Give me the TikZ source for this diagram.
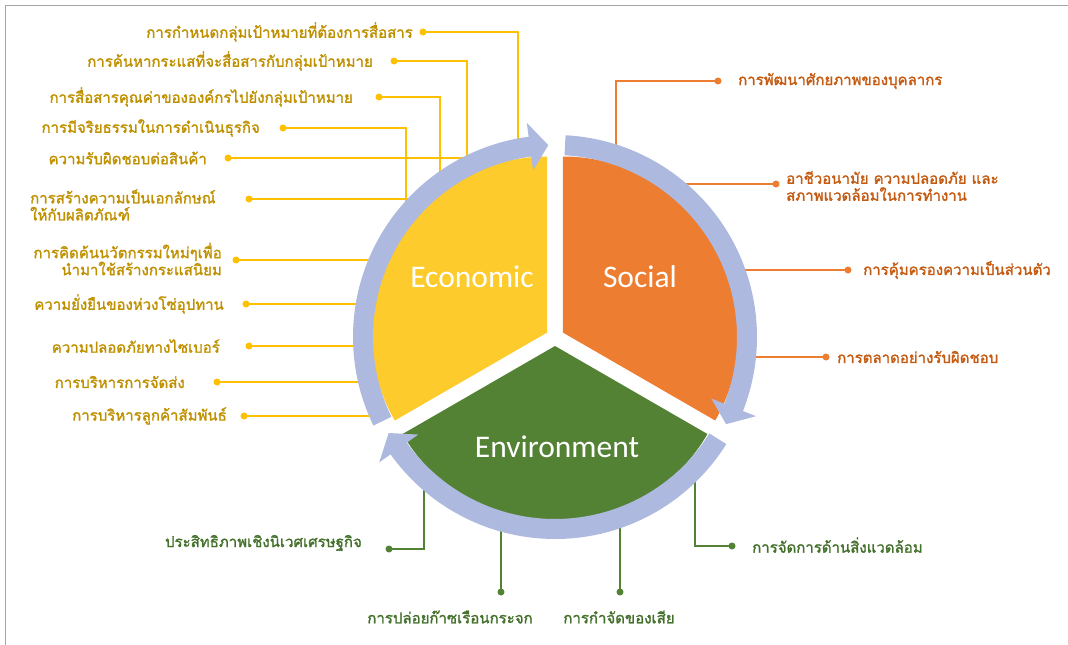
\documentclass[tikz,border=0pt]{standalone}
\usepackage{fontspec}
\newfontfamily\thaifont[Script=Thai, FakeBold=1.6]{Loma}
\newfontfamily\carlito{Carlito}
\definecolor{ecofill}{HTML}{FECB2C}
\definecolor{socfill}{HTML}{ED7D31}
\definecolor{envfill}{HTML}{548235}
\definecolor{ringc}{HTML}{ADB9DE}
\definecolor{ecoline}{HTML}{FFC000}
\definecolor{ecotext}{HTML}{BF9000}
\definecolor{socline}{HTML}{ED7D31}
\definecolor{soctext}{HTML}{C55A11}
\definecolor{envline}{HTML}{548235}
\definecolor{envtext}{HTML}{43702A}
\newcommand\ringarrow[2]{%
  \fill[ringc] (#1:202) arc[start angle=#1, end angle={#2+5.5}, radius=202]
    -- ({#2+5.5}:216) -- (#2:192) -- ({#2+5.5}:168) -- ({#2+5.5}:182)
    arc[start angle={#2+5.5}, end angle=#1, radius=182] -- cycle;}
\begin{document}
\begin{tikzpicture}[x=1pt,y=-1pt,
  lab/.style={font=\thaifont\fontsize{15}{17}\selectfont, inner sep=0pt},
  ecolab/.style={lab, text=ecotext, anchor=east, align=right},
  soclab/.style={lab, text=soctext, anchor=west, align=left},
  envlab/.style={lab, text=envtext},
  ldot/.style={circle, inner sep=0pt, minimum size=7pt},
  econn/.style={draw=ecoline, line width=1.3pt},
  sconn/.style={draw=socline, line width=1.3pt},
  gconn/.style={draw=envline, line width=1.3pt},
  seg/.style={font=\carlito\fontsize{31.5}{34}\selectfont, text=white, inner sep=0pt}]
\useasboundingbox (0,0) rectangle (1068,645);
\draw[gray!70, line width=0.8pt] (5,645) -- (5,5) -- (1068,5);

% ---- Economic labels
\node[ecolab] (e1) at (413,32) {การกำหนดกลุ่มเป้าหมายที่ต้องการสื่อสาร};
\node[ecolab] (e2) at (373,61) {การค้นหากระแสที่จะสื่อสารกับกลุ่มเป้าหมาย};
\node[ecolab] (e3) at (353,97) {การสื่อสารคุณค่าขององค์กรไปยังกลุ่มเป้าหมาย};
\node[ecolab] (e4) at (260,128) {การมีจริยธรรมในการดำเนินธุรกิจ};
\node[ecolab] (e5) at (207,158) {ความรับผิดชอบต่อสินค้า};
\node[lab, text=ecotext, anchor=west, align=left] (e6) at (30,205) {การสร้างความเป็นเอกลักษณ์\\ให้กับผลิตภัณฑ์};
\node[ecolab] (e7) at (222,259) {การคิดค้นนวัตกรรมใหม่ๆเพื่อ\\นำมาใช้สร้างกระแสนิยม};
\node[ecolab] (e8) at (224,304) {ความยั่งยืนของห่วงโซ่อุปทาน};
\node[ecolab] (e9) at (220,346) {ความปลอดภัยทางไซเบอร์};
\node[ecolab] (e10) at (185,382) {การบริหารการจัดส่ง};
\node[ecolab] (e11) at (227,416) {การบริหารลูกค้าสัมพันธ์};

\coordinate (e1e) at (518,150);
\coordinate (e2e) at (467,165);
\coordinate (e3e) at (440,180);
\coordinate (e4e) at (406,210);
\coordinate (e5e) at (470,158);
\coordinate (e6e) at (415,199);
\coordinate (e7e) at (378,260);
\coordinate (e8e) at (366,304);
\coordinate (e9e) at (363,346);
\coordinate (e10e) at (368,382);
\coordinate (e11e) at (385,416);

\node[ldot] (e1d) at (423,32) {};
\node[ldot] (e2d) at (394,61) {};
\node[ldot] (e3d) at (379,97) {};
\node[ldot] (e4d) at (283,128) {};
\node[ldot] (e5d) at (228,158) {};
\node[ldot] (e6d) at (249,199) {};
\node[ldot] (e7d) at (236,260) {};
\node[ldot] (e8d) at (246,304) {};
\node[ldot] (e9d) at (249,346) {};
\node[ldot] (e10d) at (217,382) {};
\node[ldot] (e11d) at (244,416) {};

\foreach \n in {e1,e2,e3,e4} \draw[econn] (\n d.center) -| (\n e);
\foreach \n in {e5,e6,e7,e8,e9,e10,e11} \draw[econn] (\n d.center) -- (\n e);
\foreach \n in {e1,e2,e3,e4,e5,e6,e7,e8,e9,e10,e11} \fill[ecoline] (\n d) circle[radius=3.5];

% ---- Social labels
\node[soclab] (s1) at (738,81) {การพัฒนาศักยภาพของบุคลากร};
\node[soclab] (s2) at (786,186) {อาชีวอนามัย ความปลอดภัย และ\\สภาพแวดล้อมในการทำงาน};
\node[soclab] (s3) at (863,270) {การคุ้มครองความเป็นส่วนตัว};
\node[soclab] (s4) at (837,357) {การตลาดอย่างรับผิดชอบ};
\node[ldot] (s1d) at (718,81) {};
\node[ldot] (s2d) at (776,184) {};
\node[ldot] (s3d) at (848,270) {};
\node[ldot] (s4d) at (826,357) {};
\coordinate (s1e) at (616,155);
\coordinate (s2e) at (680,184);
\coordinate (s3e) at (735,270);
\coordinate (s4e) at (745,357);
\draw[sconn] (s1d.center) -| (s1e);
\foreach \n in {s2,s3,s4} \draw[sconn] (\n d.center) -- (\n e);
\foreach \n in {s1,s2,s3,s4} \fill[socline] (\n d) circle[radius=3.5];

% ---- Environment labels
\node[envlab, anchor=east] (g1) at (362,543) {ประสิทธิภาพเชิงนิเวศเศรษฐกิจ};
\node[envlab] (g2) at (450,617) {การปล่อยก๊าซเรือนกระจก};
\node[envlab] (g3) at (619,617) {การกำจัดของเสีย};
\node[envlab, anchor=west] (g4) at (752,545) {การจัดการด้านสิ่งแวดล้อม};
\node[ldot] (g1d) at (389,549) {};
\node[ldot] (g2d) at (501,592) {};
\node[ldot] (g3d) at (620,592) {};
\node[ldot] (g4d) at (732,546) {};
\coordinate (g1e) at (424,480);
\coordinate (g2e) at (501,520);
\coordinate (g3e) at (620,518);
\coordinate (g4e) at (695,472);
\draw[gconn] (g1d.center) -| (g1e);
\draw[gconn] (g2d.center) -- (g2e);
\draw[gconn] (g3d.center) -- (g3e);
\draw[gconn] (g4d.center) -| (g4e);
\foreach \n in {g1,g2,g3,g4} \fill[envline] (\n d) circle[radius=3.5];

% ---- cycle
\begin{scope}[shift={(555,337)}, yscale=-1]
  \fill[ecofill] (150:9) -- ++(90:176) arc[start angle=90, end angle=210, radius=176] -- cycle;
  \fill[socfill] (30:9) -- ++(90:176) arc[start angle=90, end angle=-30, radius=176] -- cycle;
  \fill[envfill] (270:9) -- ++(-30:176) arc[start angle=-30, end angle=-150, radius=176] -- cycle;
  \ringarrow{206}{92}
  \ringarrow{87}{-27}
  \ringarrow{-32}{-150}
\end{scope}
\node[seg] (eco) at (472,277) {Economic};
\node[seg] (soc) at (640,277) {Social};
\node[seg] (env) at (557,447) {Environment};
\end{tikzpicture}
\end{document}
